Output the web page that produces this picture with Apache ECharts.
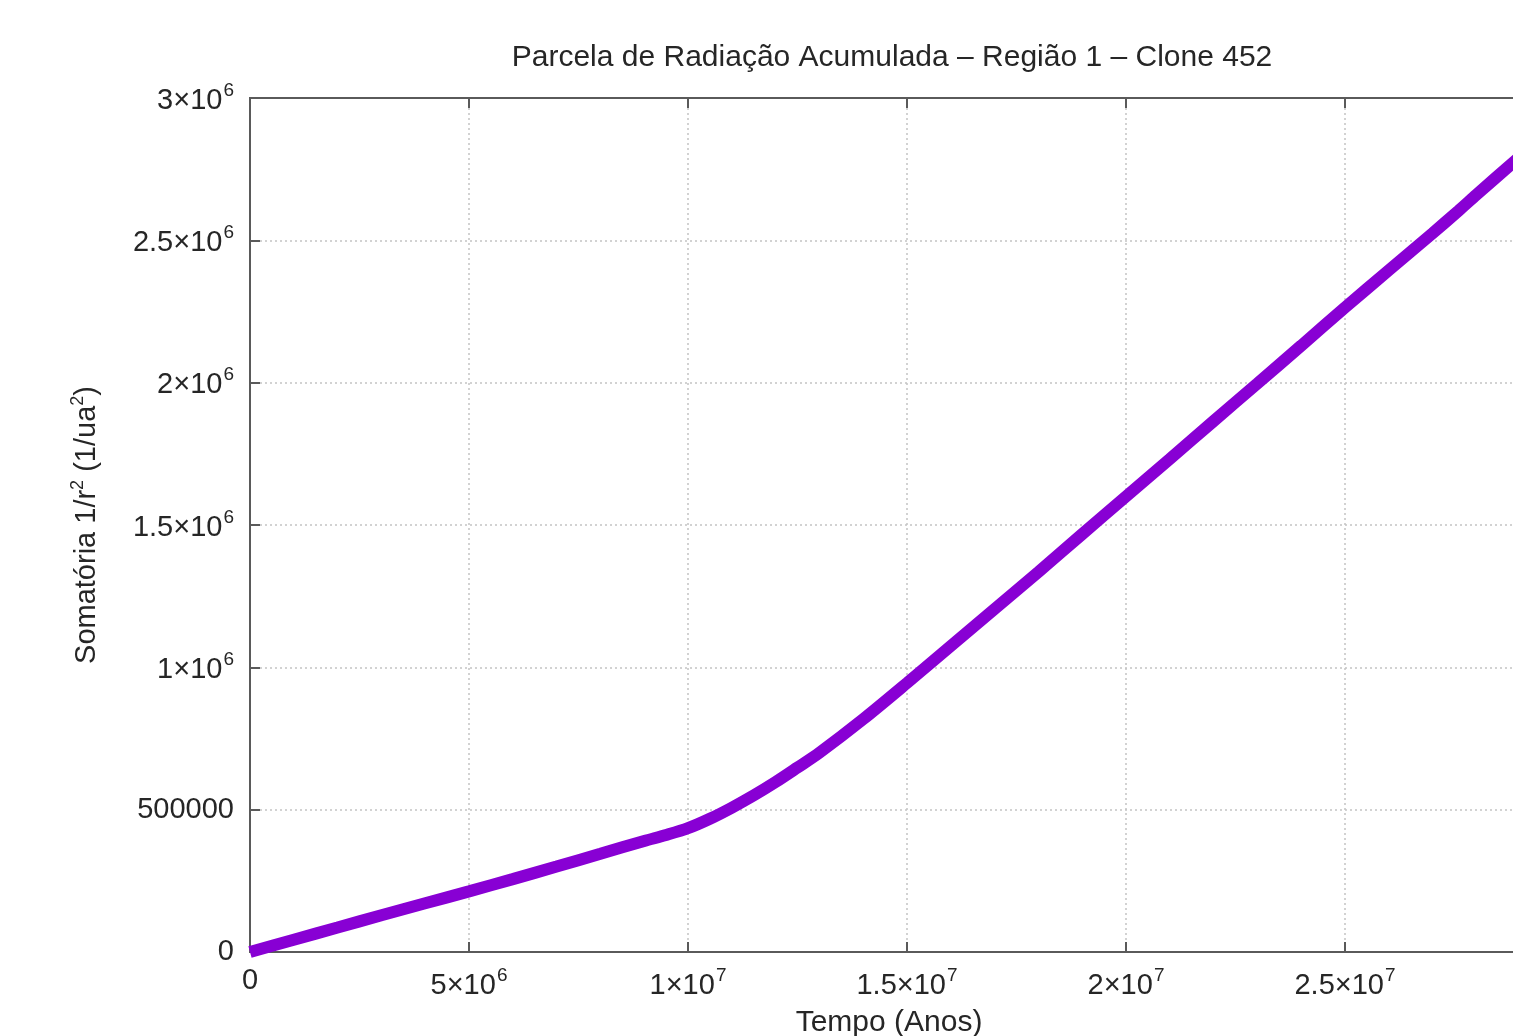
<!DOCTYPE html>
<html>
<head>
<meta charset="utf-8">
<script src="https://cdn.jsdelivr.net/npm/echarts@6/dist/echarts.min.js"></script>
<style>
  html, body { margin: 0; padding: 0; background: #fff; }
  #chart { width: 1513px; height: 1036px; }
</style>
</head>
<body>
<div id="chart"></div>
<script>
// Accumulated radiation sum (1/r^2) over time
const tempoAnos = [0, 1e6, 2e6, 3e6, 4e6, 5e6, 6e6, 7e6, 8e6, 9e6, 9.5e6, 1e7, 1.05e7, 1.1e7, 1.15e7, 1.2e7, 1.25e7, 1.3e7, 1.4e7, 1.5e7, 1.6e7, 1.7e7, 1.8e7, 1.9e7, 2e7, 2.1e7, 2.2e7, 2.3e7, 2.4e7, 2.5e7, 2.6e7, 2.7e7, 2.76e7, 2.8e7, 2.9e7];
const somatoria = [0, 43000, 86000, 129000, 171000, 213000, 256000, 300000, 345000, 390000, 411000, 435000, 468000, 507000, 550000, 597000, 648000, 700000, 818000, 945000, 1075000, 1205000, 1335000, 1468000, 1600000, 1732000, 1865000, 1997000, 2130000, 2264000, 2395000, 2525000, 2605000, 2660000, 2795000];

const xTicks = { min: 0, max: 3e7, step: 5e6 };
const yTicks = { min: 0, max: 3e6, step: 5e5 };

const tituloTexto = 'Parcela de Radiação Acumulada – Região 1 – Clone 452';
const eixoXNome = 'Tempo (Anos)';

const fontFamily = '"Liberation Sans", Arial, Helvetica, sans-serif';
const textColor = '#262626';
const axisColor = '#5a5a5a';

// gnuplot-like number format: plain below 1e6, m×10^e above
function sciLabel(v) {
  if (v === 0) return '0';
  if (v < 1e6) return String(v);
  const e = Math.floor(Math.log10(v) + 1e-9);
  const m = +(v / Math.pow(10, e)).toFixed(2);
  return '{m|' + m + '×10}{e|' + e + '}';
}

const richSci = {
  m: { fontSize: 29, fontFamily: fontFamily, color: textColor, lineHeight: 34, verticalAlign: 'bottom' },
  e: { fontSize: 19, fontFamily: fontFamily, color: textColor, lineHeight: 34, verticalAlign: 'top', padding: [0, 0, 0, 1] }
};

const chart = echarts.init(document.getElementById('chart'), null, { renderer: 'canvas' });

chart.setOption({
  backgroundColor: '#ffffff',
  animation: false,
  title: {
    text: tituloTexto,
    left: 887,
    top: 38,
    textAlign: 'center',
    textStyle: { fontFamily: fontFamily, fontSize: 30, fontWeight: 'normal', color: textColor }
  },
  grid: {
    left: 250,
    top: 98,
    width: 1314,
    height: 854,
    outerBoundsMode: 'none',
    containLabel: false,
    show: true,
    borderColor: axisColor,
    borderWidth: 2,
    backgroundColor: 'transparent'
  },
  xAxis: [
    {
      type: 'value',
      min: xTicks.min,
      max: xTicks.max,
      interval: xTicks.step,
      name: eixoXNome,
      nameLocation: 'middle',
      nameGap: 56,
      nameTextStyle: { fontFamily: fontFamily, fontSize: 30, color: textColor, padding: [0, 36, 0, 0] },
      axisLine: { show: true, lineStyle: { color: axisColor, width: 2 } },
      axisTick: { show: true, inside: true, length: 10, lineStyle: { color: axisColor, width: 2 } },
      axisLabel: { margin: 14, formatter: sciLabel, rich: richSci, fontFamily: fontFamily, fontSize: 29, color: textColor },
      splitLine: { show: true, lineStyle: { color: '#c4c4c4', width: 1.5, type: [2, 3] } }
    },
    {
      type: 'value',
      position: 'top',
      min: xTicks.min,
      max: xTicks.max,
      interval: xTicks.step,
      axisLine: { show: true, lineStyle: { color: axisColor, width: 2 } },
      axisTick: { show: true, inside: true, length: 10, lineStyle: { color: axisColor, width: 2 } },
      axisLabel: { show: false },
      splitLine: { show: false }
    }
  ],
  yAxis: {
    type: 'value',
    min: yTicks.min,
    max: yTicks.max,
    interval: yTicks.step,
    name: '{t|Somatória 1/r}{s|2}{t| (1/ua}{s|2}{t|)}',
    nameLocation: 'middle',
    nameGap: 149,
    nameTextStyle: {
      rich: {
        t: { fontFamily: fontFamily, fontSize: 29, color: textColor, lineHeight: 32, verticalAlign: 'bottom' },
        s: { fontFamily: fontFamily, fontSize: 18, color: textColor, lineHeight: 32, verticalAlign: 'top' }
      }
    },
    axisLine: { show: true, lineStyle: { color: axisColor, width: 2 } },
    axisTick: { show: true, inside: true, length: 10, lineStyle: { color: axisColor, width: 2 } },
    axisLabel: { margin: 16, formatter: sciLabel, rich: richSci, fontFamily: fontFamily, fontSize: 29, color: textColor },
    splitLine: { show: true, lineStyle: { color: '#c4c4c4', width: 1.5, type: [2, 3] } }
  },
  series: [
    {
      type: 'line',
      xAxisIndex: 0,
      data: tempoAnos.map((t, i) => [t, somatoria[i]]),
      showSymbol: false,
      smooth: 0.3,
      clip: false,
      lineStyle: { color: '#8800d4', width: 12 },
      emphasis: { disabled: true }
    }
  ]
});
</script>
</body>
</html>
